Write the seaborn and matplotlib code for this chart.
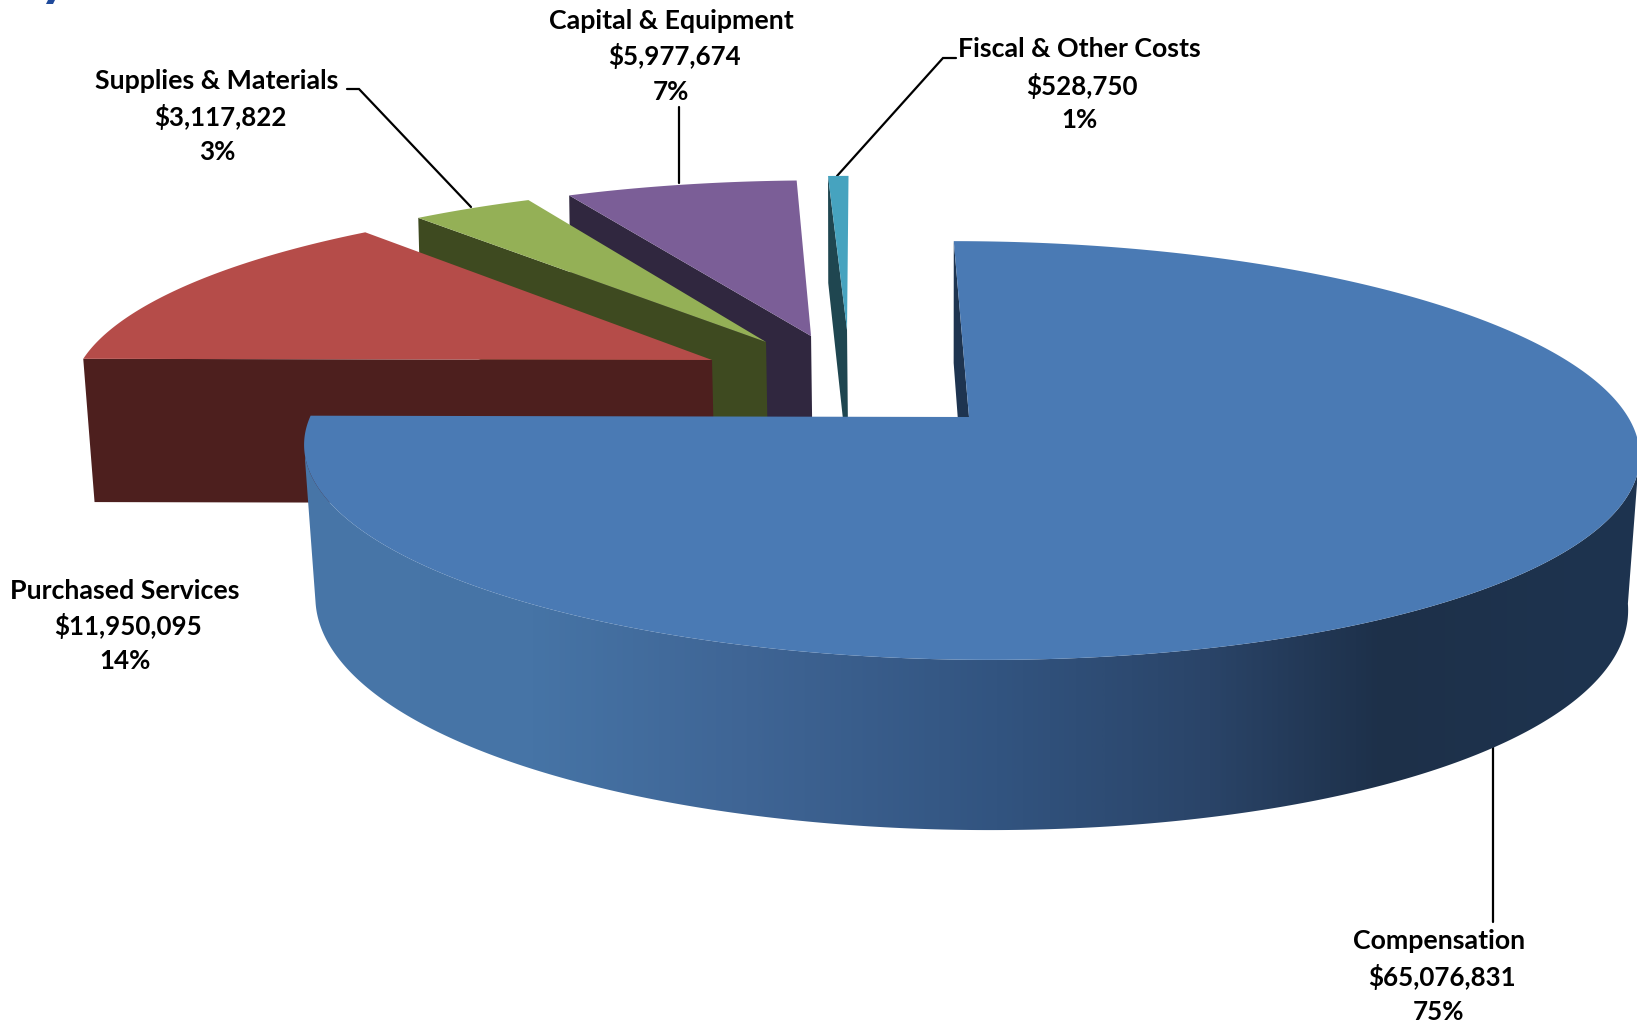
import numpy as np
import matplotlib
matplotlib.use("Agg")
import matplotlib.pyplot as plt
import seaborn as sns
from matplotlib.colors import LinearSegmentedColormap
from matplotlib.patches import Polygon

# Budget by category, clockwise from twelve o'clock
categories = ["Compensation", "Purchased Services", "Supplies & Materials",
              "Capital & Equipment", "Fiscal & Other Costs"]
amounts = [65076831, 11950095, 3117822, 5977674, 528750]
percent_labels = ["75%", "14%", "3%", "7%", "1%"]

sns.set_theme(style="white")
plt.rcParams["font.family"] = ["Lato", "DejaVu Sans"]

top_colors = sns.color_palette(["#4a7ab4", "#b54c49", "#94b056", "#7b5e97", "#46a3bf"])
side_colors = sns.color_palette(["#1e3450", "#4d1f1e", "#3e4a20", "#30273f", "#1f4650"])

# Camera model: unit pie in the plane, projected with perspective foreshortening.
# The top and base faces sit at different depths, so each has its own parameters.
CX, SHEAR = 971.0, -18.0
TOP = dict(y0=417.0, rx=659.0, ry=204.0, px=0.16, py=0.16)
BASE = dict(y0=568.5, rx=648.7, ry=230.2, px=0.15, py=0.12)

# Offset of each slice in the pie plane
explode = [(-0.003, 0.0), (-0.4034, 0.2925), (-0.3198, 0.3906), (-0.2476, 0.424), (-0.1894, 0.4576)]


def project(x, y, face=TOP):
    """Screen position of plane point (x, y) on the given face."""
    x, y = np.asarray(x, float), np.asarray(y, float)
    sx = (face["rx"] * x + SHEAR * y) / (1 + face["px"] * y)
    sy = -face["ry"] * y / (1 + face["py"] * y)
    return np.column_stack([CX + sx, face["y0"] + sy])


def rim(offset, start, stop, n=160):
    a = np.radians(np.linspace(start, stop, n))
    return offset[0] + np.sin(a), offset[1] + np.cos(a)


def silhouette(face):
    """Clockwise rim angles where the face outline is widest on screen."""
    a = np.degrees(np.arccos(-face["px"]))
    return a, 360.0 - a


fig = plt.figure(figsize=(16.37, 10.23), dpi=100)
ax = fig.add_axes([0, 0, 1, 1])

fractions = np.array(amounts) / np.sum(amounts)
edges = np.concatenate([[0.0], np.cumsum(fractions) * 360.0])

# Rear slices first, the large front slice last
for i in [4, 3, 2, 1]:
    off, a0, a1 = explode[i], edges[i], edges[i + 1]
    ox, oy = rim(off, a0, a0, 1)
    rx_, ry_ = np.array([off[0], ox[0]]), np.array([off[1], oy[0]])
    wall = np.vstack([project(rx_, ry_), project(rx_[::-1], ry_[::-1], BASE)])
    ax.add_patch(Polygon(wall, closed=True, fc=side_colors[i], ec="none", zorder=2 + (4 - i)))
    xs, ys = rim(off, a0, a1)
    top = project(np.r_[off[0], xs], np.r_[off[1], ys])
    ax.add_patch(Polygon(top, closed=True, fc=top_colors[i], ec="none", zorder=2 + (4 - i)))

# Front slice: inner wall, shaded outer wall, top face
off, a0, a1 = explode[0], edges[0], edges[1]
spoke_x, spoke_y = np.array([off[0], off[0]]), np.array([off[1], off[1] + 1.0])
inner = np.vstack([project(spoke_x, spoke_y), project(spoke_x[::-1], spoke_y[::-1], BASE)])
ax.add_patch(Polygon(inner, closed=True, fc=side_colors[0], ec="none", zorder=6))

t0, t1 = silhouette(TOP)
b0, b1 = silhouette(BASE)
tx, ty = rim(off, t0, t1, 300)
bx, by = rim(off, b1, b0, 300)
outer = np.vstack([project(tx, ty), project(bx, by, BASE)])
outer_patch = Polygon(outer, closed=True, fc="none", ec="none", zorder=7)
ax.add_patch(outer_patch)
stops = [(0.0, "#4876a8"), (0.17, "#4674a6"), (0.33, "#3f6595"), (0.52, "#325480"),
         (0.68, "#2a4468"), (0.81, "#1d3049"), (1.0, "#1e3450")]
wall_cmap = LinearSegmentedColormap.from_list("wall", stops)
shade = ax.imshow(np.linspace(0, 1, 512)[None, :], cmap=wall_cmap, aspect="auto",
                  extent=(305, 1637, 850, 400), zorder=7)
shade.set_clip_path(outer_patch)

xs, ys = rim(off, a0, a1, 400)
top = project(np.r_[off[0], xs], np.r_[off[1], ys])
ax.add_patch(Polygon(top, closed=True, fc=top_colors[0], ec="none", zorder=8))

# Leader lines from labels to slices
leaders = [
    ([1493, 1493], [735, 922]),
    ([347, 359, 471], [89, 89, 207]),
    ([679, 679], [107, 183]),
    ([956, 943, 837], [58, 58, 176]),
]
for lx, ly in leaders:
    ax.plot(lx, ly, color="black", lw=1.6, zorder=1, solid_joinstyle="miter")

# Three-line labels: name, amount, share
label_x = [1439, 125, 217, 671, 1079]
label_y = [(941, 977, 1012), (591, 626, 661), (81, 117, 152), (21, 56, 92), (49, 86, 120)]
line_sizes = (19.3, 18.6, 18.7)
line_shift = (0, 3, 0)
for i, name in enumerate(categories):
    lines = [name, f"${amounts[i]:,}", percent_labels[i]]
    for text, y, size, dx in zip(lines, label_y[i], line_sizes, line_shift):
        ax.text(label_x[i] + dx, y, text, ha="center", va="center", fontsize=size,
                fontweight="bold", color="black", zorder=10)

# Clipped descender of the page heading at the top edge
ax.add_patch(Polygon([(46, 4), (48, 0), (55, 0), (53, 4)], closed=True, fc="#1f4a9b", ec="none"))

ax.set_xlim(0, 1637)
ax.set_ylim(1023, 0)
ax.axis("off")
fig.savefig("out.png", dpi=100, facecolor="white")
